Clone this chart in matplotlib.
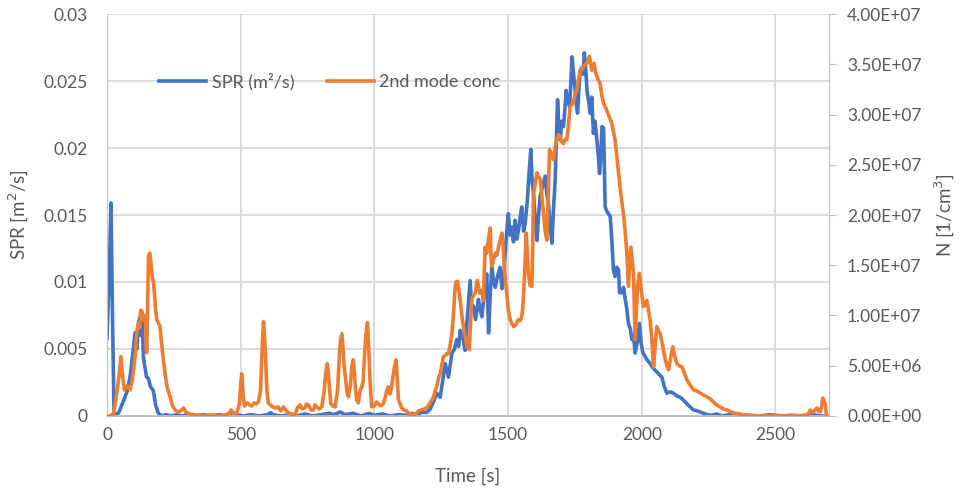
import numpy as np
import matplotlib
matplotlib.use("Agg")
from matplotlib import pyplot as plt
from matplotlib.ticker import FuncFormatter

# SPR series: time [s] and value [1e-3 m2/s]
t_spr = [0, 8, 15, 20, 26, 35, 45, 55, 67, 78, 88, 97, 105, 112, 118, 123, 128, 132, 136, 142,
         148, 155, 162, 173, 182, 192, 205, 220, 240, 260, 280, 300, 330, 360, 390, 420, 450, 480, 510, 540,
         570, 600, 612, 620, 650, 680, 710, 740, 770, 800, 830, 850, 872, 890, 920, 950, 980, 1000, 1030, 1060,
         1090, 1120, 1140, 1160, 1180, 1195, 1208, 1220, 1233, 1246, 1258, 1265, 1277, 1290, 1300, 1308, 1315, 1321, 1330, 1339,
         1348, 1358, 1364, 1370, 1378, 1389, 1395, 1402, 1410, 1420, 1427, 1433, 1439, 1446, 1452, 1460, 1470, 1477, 1483, 1490,
         1496, 1501, 1507, 1514, 1520, 1526, 1533, 1539, 1545, 1551, 1558, 1564, 1572, 1578, 1585, 1590, 1595, 1602, 1608, 1614,
         1620, 1630, 1639, 1645, 1651, 1658, 1664, 1670, 1676, 1681, 1685, 1690, 1695, 1701, 1707, 1712, 1717, 1723, 1730, 1735,
         1739, 1745, 1751, 1756, 1760, 1765, 1770, 1776, 1781, 1785, 1790, 1795, 1801, 1807, 1813, 1819, 1825, 1832, 1837, 1842,
         1847, 1851, 1857, 1863, 1869, 1875, 1882, 1888, 1894, 1900, 1907, 1913, 1917, 1926, 1932, 1938, 1944, 1950, 1957, 1963,
         1969, 1975, 1983, 1991, 1997, 2004, 2011, 2019, 2028, 2038, 2046, 2056, 2065, 2075, 2084, 2094, 2105, 2119, 2130, 2144,
         2155, 2169, 2180, 2193, 2205, 2218, 2230, 2244, 2260, 2280, 2300, 2330, 2360, 2400, 2440, 2480, 2520, 2560, 2600, 2640,
         2670, 2690]
spr_e3 = [5.8, 10.5, 15.9, 8.0, 0.3, 0.0, 0.3, 0.8, 1.4, 2.0, 3.2, 4.8, 6.2, 5.0, 7.0, 7.4, 6.0, 7.2, 4.4, 3.6,
          2.9, 2.8, 2.2, 1.9, 0.8, 0.2, 0.0, 0.1, 0.0, 0.1, 0.0, 0.1, 0.0, 0.1, 0.0, 0.1, 0.0, 0.1, 0.0, 0.1,
          0.0, 0.1, 0.25, 0.1, 0.0, 0.1, 0.0, 0.15, 0.0, 0.1, 0.2, 0.1, 0.3, 0.1, 0.2, 0.0, 0.2, 0.05, 0.15, 0.0,
          0.1, 0.05, 0.2, 0.1, 0.3, 0.25, 0.5, 1.0, 1.7, 1.4, 3.0, 3.9, 2.9, 4.7, 5.0, 5.7, 5.2, 6.4, 6.0, 4.9,
          7.5, 10.1, 8.0, 8.2, 7.2, 8.7, 8.0, 7.4, 9.0, 10.6, 6.2, 9.0, 11.1, 10.0, 9.6, 10.4, 11.1, 9.5, 10.1, 12.5,
          14.0, 15.1, 13.5, 14.1, 13.0, 14.6, 13.2, 13.9, 14.8, 15.6, 13.8, 14.4, 16.1, 18.0, 19.9, 17.5, 16.6, 14.5, 13.1, 15.0,
          16.4, 17.2, 17.9, 16.5, 15.9, 14.0, 12.9, 15.5, 17.6, 21.0, 23.6, 21.5, 20.6, 22.0, 21.6, 22.8, 24.3, 23.5, 23.1, 25.0,
          26.8, 25.5, 24.3, 23.0, 22.6, 24.5, 25.8, 26.0, 25.5, 27.1, 26.0, 24.3, 23.5, 22.6, 23.8, 21.1, 22.0, 20.6, 19.5, 18.1,
          19.5, 21.6, 21.5, 15.6, 15.3, 15.1, 14.9, 13.1, 10.9, 10.4, 11.1, 10.9, 9.2, 9.2, 9.6, 8.7, 8.0, 6.9, 6.5, 5.7,
          6.0, 4.7, 5.5, 6.9, 5.5, 4.7, 4.5, 4.2, 4.0, 3.7, 3.5, 3.3, 3.1, 2.9, 2.2, 1.7, 1.8, 1.7, 1.5, 1.4,
          1.2, 0.9, 0.7, 0.45, 0.4, 0.3, 0.2, 0.1, 0.05, 0.15, 0.0, 0.1, 0.0, 0.05, 0.0, 0.1, 0.0, 0.05, 0.0, 0.1,
          0.0, 0.0]

# 2nd mode concentration: time [s] and value [1e6 1/cm3]
t_conc = [0, 15, 25, 35, 45, 52, 58, 65, 75, 86, 95, 105, 112, 117, 122, 126, 130, 138, 144, 148,
          152, 155, 160, 166, 170, 173, 178, 182, 186, 193, 198, 205, 211, 217, 225, 236, 245, 254, 265, 275,
          286, 295, 310, 330, 360, 390, 420, 445, 458, 464, 472, 485, 495, 501, 504, 509, 514, 525, 533, 541,
          550, 558, 566, 574, 580, 585, 589, 593, 598, 603, 615, 628, 640, 650, 660, 668, 678, 690, 703, 712,
          722, 730, 740, 746, 753, 762, 772, 778, 784, 793, 803, 812, 818, 824, 830, 837, 845, 853, 862, 868,
          873, 878, 882, 887, 893, 898, 903, 910, 916, 921, 926, 930, 934, 940, 946, 953, 958, 963, 968, 974,
          979, 984, 990, 1000, 1008, 1015, 1024, 1033, 1040, 1046, 1052, 1058, 1064, 1070, 1076, 1081, 1085, 1090, 1096, 1102,
          1110, 1120, 1127, 1134, 1140, 1148, 1158, 1166, 1175, 1185, 1196, 1205, 1213, 1221, 1228, 1234, 1240, 1246, 1252, 1258,
          1265, 1271, 1277, 1283, 1290, 1296, 1302, 1307, 1311, 1316, 1321, 1327, 1333, 1340, 1346, 1350, 1355, 1360, 1364, 1370,
          1377, 1381, 1385, 1390, 1395, 1402, 1408, 1411, 1414, 1420, 1426, 1433, 1436, 1439, 1445, 1452, 1458, 1464, 1470, 1477,
          1481, 1485, 1490, 1495, 1501, 1508, 1514, 1520, 1527, 1533, 1539, 1545, 1551, 1555, 1558, 1563, 1568, 1572, 1576, 1582,
          1589, 1592, 1595, 1601, 1608, 1614, 1620, 1626, 1632, 1638, 1645, 1650, 1655, 1662, 1670, 1676, 1682, 1688, 1695, 1701,
          1707, 1713, 1720, 1726, 1732, 1739, 1745, 1751, 1757, 1763, 1770, 1776, 1782, 1789, 1795, 1800, 1804, 1809, 1813, 1818,
          1822, 1827, 1832, 1838, 1844, 1850, 1857, 1863, 1869, 1878, 1888, 1894, 1900, 1906, 1913, 1920, 1926, 1930, 1934, 1939,
          1944, 1947, 1950, 1955, 1959, 1964, 1969, 1972, 1975, 1980, 1984, 1991, 1998, 2006, 2012, 2019, 2025, 2031, 2038, 2044,
          2050, 2056, 2062, 2069, 2078, 2088, 2094, 2100, 2108, 2116, 2123, 2131, 2140, 2150, 2160, 2169, 2180, 2193, 2205, 2218,
          2230, 2244, 2256, 2268, 2280, 2293, 2305, 2318, 2330, 2343, 2355, 2368, 2385, 2405, 2450, 2500, 2550, 2600, 2618, 2625,
          2630, 2636, 2642, 2648, 2655, 2660, 2667, 2672, 2677, 2681, 2686, 2690, 2692]
conc_e6 = [0.0, 0.0, 0.3, 2.0, 4.0, 5.9, 4.0, 2.6, 3.0, 2.6, 3.6, 6.0, 8.5, 9.2, 8.8, 10.5, 10.5, 9.5, 10.0, 6.3,
           11.0, 15.9, 16.2, 14.8, 13.6, 13.5, 12.0, 10.5, 9.6, 9.2, 8.9, 7.0, 5.5, 4.2, 2.8, 1.9, 1.0, 0.6, 0.4, 0.5,
           0.8, 0.4, 0.2, 0.1, 0.05, 0.1, 0.05, 0.1, 0.3, 0.6, 0.3, 0.3, 1.2, 3.5, 4.2, 2.0, 1.0, 1.3, 1.1, 1.0,
           1.3, 1.2, 1.4, 2.5, 6.5, 9.4, 8.0, 5.9, 2.5, 1.3, 1.0, 0.8, 0.9, 0.5, 0.9, 0.6, 0.3, 0.2, 0.1, 0.8,
           1.1, 0.7, 0.8, 1.2, 1.1, 0.6, 0.6, 1.1, 0.9, 0.7, 0.9, 2.5, 4.3, 5.2, 3.5, 1.2, 1.0, 0.9, 2.5, 5.5,
           7.5, 8.2, 7.0, 4.9, 3.5, 2.3, 1.9, 3.0, 5.0, 5.6, 4.0, 2.5, 1.6, 1.3, 2.5, 2.9, 3.5, 6.0, 8.0, 9.3,
           6.5, 3.3, 0.9, 1.0, 1.4, 1.2, 1.0, 1.2, 1.8, 2.5, 2.9, 2.2, 2.8, 4.0, 5.0, 5.6, 3.8, 1.6, 1.2, 0.8,
           0.6, 0.5, 0.3, 0.1, 0.2, 0.1, 0.3, 0.5, 0.6, 0.7, 0.8, 1.2, 1.5, 1.9, 2.6, 3.0, 3.8, 4.2, 5.0, 5.9,
           6.0, 6.2, 6.2, 7.0, 8.2, 10.2, 12.9, 13.4, 13.4, 12.5, 11.5, 10.0, 8.9, 7.8, 6.9, 7.2, 6.6, 9.5, 11.5, 12.0,
           12.2, 13.0, 13.5, 12.8, 12.2, 12.5, 11.5, 14.5, 16.8, 16.2, 17.5, 18.7, 16.0, 14.9, 15.5, 16.2, 16.0, 16.8, 17.5, 18.2,
           17.0, 15.5, 13.5, 12.2, 10.5, 9.6, 9.2, 8.9, 9.0, 9.3, 9.6, 9.5, 9.9, 10.8, 12.2, 15.0, 18.2, 16.0, 14.2, 13.0,
           12.9, 17.0, 22.2, 23.0, 24.2, 23.8, 23.6, 22.0, 20.2, 18.5, 17.5, 22.0, 26.5, 26.0, 25.5, 26.8, 27.5, 28.0, 27.8, 27.3,
           27.1, 27.5, 27.5, 29.0, 30.8, 31.0, 31.4, 32.0, 32.4, 33.5, 34.4, 34.5, 34.8, 35.0, 35.1, 35.5, 35.8, 35.0, 34.4, 34.8,
           35.1, 34.2, 33.8, 33.4, 33.1, 32.0, 31.1, 30.8, 30.4, 29.8, 29.1, 28.3, 27.5, 26.0, 24.2, 22.5, 21.2, 20.3, 19.5, 18.0,
           16.2, 14.5, 12.9, 15.0, 16.8, 15.5, 14.2, 11.0, 7.6, 10.5, 12.9, 14.2, 12.5, 10.9, 11.0, 11.5, 10.5, 9.6, 7.5, 4.9,
           7.0, 8.9, 8.5, 8.2, 7.0, 5.6, 5.0, 4.6, 5.8, 6.9, 6.0, 5.2, 5.0, 4.9, 4.2, 3.6, 3.1, 2.6, 2.5, 2.3,
           2.1, 1.9, 1.7, 1.4, 1.1, 0.9, 0.7, 0.6, 0.45, 0.3, 0.25, 0.2, 0.1, 0.05, 0.0, 0.05, 0.0, 0.05, 0.1, 0.3,
           0.6, 0.4, 0.4, 0.6, 0.8, 0.5, 0.4, 0.9, 1.8, 1.5, 1.2, 0.2, 0.0]

x_ticks = [0, 500, 1000, 1500, 2000, 2500]
spr_ticks = [0, 0.005, 0.01, 0.015, 0.02, 0.025, 0.03]
conc_ticks = [0, 5e6, 1e7, 1.5e7, 2e7, 2.5e7, 3e7, 3.5e7, 4e7]

spr = np.array(spr_e3) * 1e-3
conc = np.array(conc_e6) * 1e6

txt = '#595959'
grid = '#d9d9d9'
plt.rcParams['font.family'] = ['Lato', 'DejaVu Sans']

fig = plt.figure(figsize=(9.59, 4.92), dpi=100)
ax = fig.add_axes([0.1116, 0.1545, 0.7528, 0.817])
ax2 = ax.twinx()

l1, = ax.plot(t_spr, spr, color='#4472C4', lw=2.6, label='SPR (m²/s)')
l2, = ax2.plot(t_conc, conc, color='#ED7D31', lw=2.6, label='2nd mode conc')

ax.set_xlim(0, 2700)
ax.set_ylim(0, 0.03)
ax2.set_ylim(0, 4e7)
ax.set_xticks(x_ticks)
ax.set_yticks(spr_ticks)
ax2.set_yticks(conc_ticks)
ax.yaxis.set_major_formatter(FuncFormatter(lambda v, p: '0' if v == 0 else ('%g' % v)))
ax2.yaxis.set_major_formatter(FuncFormatter(lambda v, p: '%.2E' % v))

ax.grid(True, color=grid, lw=1.3)
ax.set_axisbelow(True)
for a in (ax, ax2):
    for s in a.spines.values():
        s.set_visible(False)
ax.spines['left'].set_visible(True)
ax.spines['left'].set_color('#bfbfbf')
ax.spines['bottom'].set_visible(True)
ax.spines['bottom'].set_color('#bfbfbf')
ax.spines['bottom'].set_linewidth(1.3)
ax2.spines['right'].set_visible(True)
ax2.spines['right'].set_color('#bfbfbf')

ax.tick_params(axis='y', length=0, labelsize=12.5, labelcolor=txt, pad=14)
ax.tick_params(axis='x', length=0, labelsize=12.5, labelcolor=txt, pad=8)
ax2.tick_params(axis='y', length=5, color='#bfbfbf', labelsize=12.5, labelcolor=txt, pad=8)

ax.set_xlabel('Time [s]', fontsize=13.5, color=txt, labelpad=18)
ax.set_ylabel('SPR [m$^2$/s]', fontsize=13.5, color=txt, labelpad=9)
ax2.set_ylabel('N [1/cm$^3$]', fontsize=13.5, color=txt, labelpad=8)

ax.legend(handles=[l1, l2], loc='upper left', bbox_to_anchor=(0.05, 0.895), ncol=2,
          frameon=False, fontsize=13, labelcolor=txt, handlelength=2.6,
          handletextpad=0.3, columnspacing=1.8)

fig.savefig('out.png', dpi=100)
